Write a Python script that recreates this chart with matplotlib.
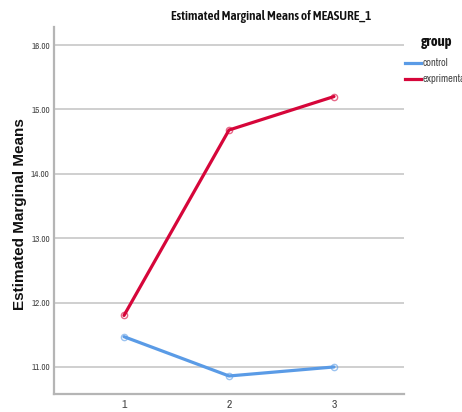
import matplotlib
matplotlib.use("Agg")
import matplotlib.pyplot as plt
from matplotlib.lines import Line2D

# Estimated marginal means per measurement occasion
occasions = ["1", "2", "3"]
control = [11.47, 10.86, 11.00]
experimental = [11.80, 14.68, 15.20]
y_ticks = [11.0, 12.0, 13.0, 14.0, 15.0, 16.0]
group_labels = ["control", "exprimental"]
colors = ["#5a9be6", "#d6063a"]

narrow = ["Archivo Narrow", "Liberation Sans", "DejaVu Sans"]
narrow_bold = ["Asap Condensed", "Liberation Sans", "DejaVu Sans"]
sans = ["Liberation Sans", "DejaVu Sans"]

W, H = 462, 412
fig = plt.figure(figsize=(W / 100, H / 100), dpi=100)
ax = fig.add_axes([54 / W, 18 / H, 350 / W, 367 / H])

xs = list(range(1, len(occasions) + 1))
for vals, col in zip([control, experimental], colors):
    ax.plot(xs, vals, color=col, lw=2.3, solid_capstyle="round", zorder=3)
    ax.plot(xs, vals, "o", ms=4.5, mfc="none", mec=col, mew=1.0, alpha=0.6, zorder=4)

ax.set_xlim(1 - 2 / 3, 3 + 2 / 3)
ax.set_ylim(10.58, 16.28)
ax.set_xticks(xs)
ax.set_xticklabels(occasions, fontfamily=narrow, fontsize=8.5, color="#444444")
ax.set_yticks(y_ticks)
ax.set_yticklabels([f"{v:.2f}" for v in y_ticks], fontfamily=narrow, fontsize=6.5,
                   color="#444444")
ax.tick_params(axis="y", length=0, pad=3)
ax.tick_params(axis="x", length=0, pad=4.5)

ax.grid(axis="y", color="#cfcfcf", lw=1.4)
ax.set_axisbelow(True)
for s in ["top", "right"]:
    ax.spines[s].set_visible(False)
for s in ["left", "bottom"]:
    ax.spines[s].set_color("#b5b5b5")
    ax.spines[s].set_linewidth(1.6)

ax.set_ylabel("Estimated Marginal Means", fontfamily=sans, fontweight="bold",
              fontsize=11, color="#111111")
ax.yaxis.set_label_coords((27 - 54) / 350, 0.49)

fig.text(271 / W, 1 - 16.5 / H, "Estimated Marginal Means of MEASURE_1", ha="center",
         va="center", fontfamily=narrow_bold, fontweight=600, fontsize=9.5,
         color="#111111")

# Legend: title, then one line sample and label per group
fig.text(421 / W, 1 - 42 / H, "group", ha="left", va="center",
         fontfamily=narrow_bold, fontweight="bold", fontsize=10.5, color="#111111")
for i, (lab, col) in enumerate(zip(group_labels, colors)):
    yy = 1 - (63 + 15.5 * i) / H
    fig.add_artist(Line2D([405 / W, 421 / W], [yy, yy], transform=fig.transFigure,
                          color=col, lw=2.3))
    fig.text(423 / W, yy, lab, ha="left", va="center", fontfamily=narrow,
             fontsize=7.5, color="#444444")

fig.savefig("out.png", dpi=100)
